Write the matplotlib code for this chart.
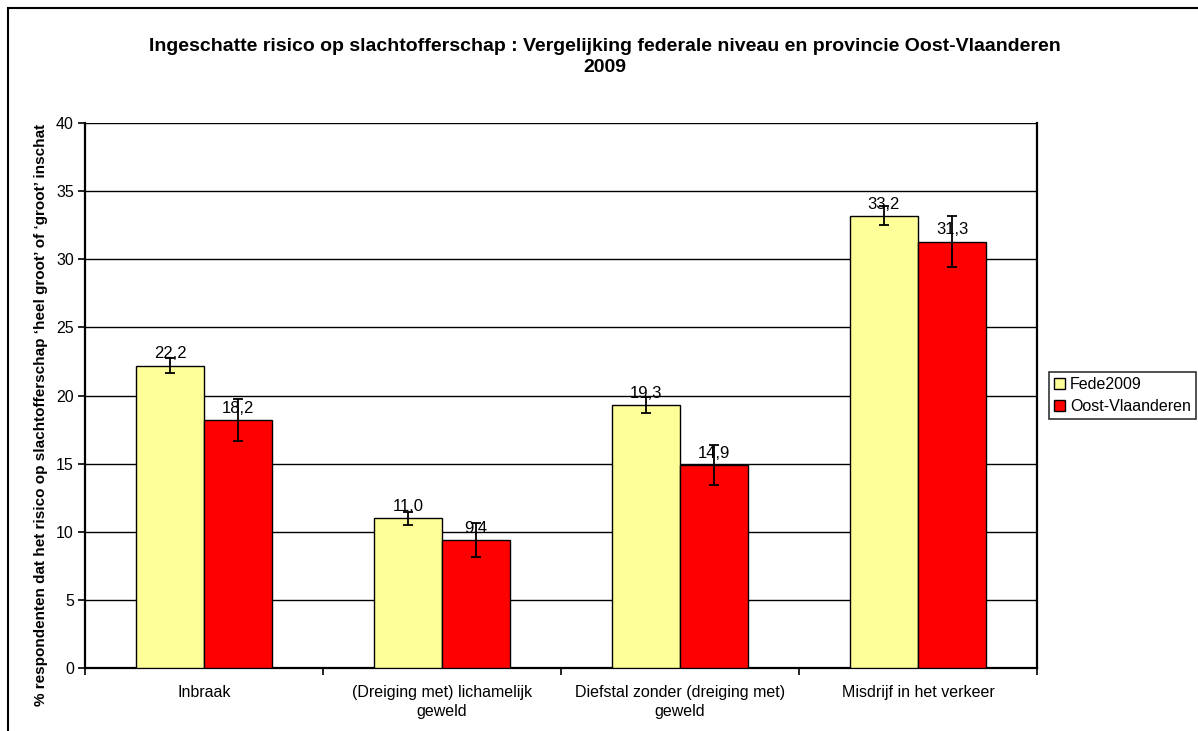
import matplotlib.pyplot as plt
import numpy as np
from matplotlib.patches import Rectangle

plt.rcParams['font.family'] = ['Liberation Sans', 'DejaVu Sans']

categories = ['Inbraak', '(Dreiging met) lichamelijk\ngeweld',
              'Diefstal zonder (dreiging met)\ngeweld', 'Misdrijf in het verkeer']
series_names = ['Fede2009', 'Oost-Vlaanderen']
fede = [22.2, 11.0, 19.3, 33.2]
fede_err = [0.57, 0.47, 0.6, 0.7]
oost = [18.2, 9.4, 14.9, 31.3]
oost_err = [1.57, 1.26, 1.45, 1.9]
labels_fede = ['22,2', '11,0', '19,3', '33,2']
labels_oost = ['18,2', '9,4', '14,9', '31,3']

fig = plt.figure(figsize=(11.98, 7.31), dpi=100)
ax = fig.add_axes([0.0710, 0.0862, 0.7946, 0.7455])

x = np.arange(len(categories))
w = 0.286
err_kw = dict(ecolor='black', elinewidth=1.3, capsize=3.5, capthick=1.3)
b1 = ax.bar(x - w / 2, fede, w, yerr=fede_err, color='#FFFF99', edgecolor='black',
            linewidth=1, label=series_names[0], error_kw=err_kw, zorder=3)
b2 = ax.bar(x + w / 2, oost, w, yerr=oost_err, color='#FF0000', edgecolor='black',
            linewidth=1, label=series_names[1], error_kw=err_kw, zorder=3)

# value labels above each bar
for bars, labs in ((b1, labels_fede), (b2, labels_oost)):
    for r, t in zip(bars, labs):
        ax.annotate(t, (r.get_x() + r.get_width() / 2, r.get_height()),
                    xytext=(0, 3), textcoords='offset points', ha='center', va='bottom',
                    fontsize=12, zorder=5)

ax.set_xlim(-0.5, len(categories) - 0.5)
ax.set_ylim(0, 40)
ax.set_yticks(np.arange(0, 41, 5))
ax.yaxis.grid(True, color='black', linewidth=1)
ax.set_axisbelow(True)

ax.set_xticks(x)
ax.set_xticklabels(categories, fontsize=11.5, linespacing=1.4)
ax.set_xticks(np.arange(-0.5, len(categories), 1), minor=True)
ax.tick_params(axis='x', which='major', length=0, pad=12)
ax.tick_params(axis='x', which='minor', length=5, width=1.2, direction='out')
ax.tick_params(axis='y', length=5, width=1.2, direction='out', labelsize=11.5, pad=3)

for s in ('left', 'bottom', 'right'):
    ax.spines[s].set_linewidth(1.6)
    ax.spines[s].set_color('black')
ax.spines['top'].set_visible(False)

ax.set_ylabel('% respondenten dat het risico op slachtofferschap \u2018heel groot\u2019 of \u2018groot\u2019 inschat',
              fontsize=11, fontweight='bold')
ax.yaxis.set_label_coords(-0.039, 0.464)

fig.text(0.505, 0.922, 'Ingeschatte risico op slachtofferschap : Vergelijking federale niveau en provincie Oost-Vlaanderen\n2009',
         ha='center', va='center', fontsize=14, fontweight='bold', linespacing=1.3)

leg = ax.legend(loc='upper left', bbox_to_anchor=(0.876, 0.491), bbox_transform=fig.transFigure,
                frameon=True, fancybox=False, edgecolor='black', fontsize=11.5,
                handlelength=0.7, handleheight=0.7, handletextpad=0.3,
                borderpad=0.3, labelspacing=0.45, borderaxespad=0)
leg.get_frame().set_linewidth(1.2)

# chart-area border (left and top edges visible)
fig.patches.append(Rectangle((8 / 1198, -0.1), 1.2, 0.1 + 1 - 8 / 731, transform=fig.transFigure,
                             fill=False, edgecolor='black', linewidth=1.5))

fig.savefig('out.png', dpi=100)
